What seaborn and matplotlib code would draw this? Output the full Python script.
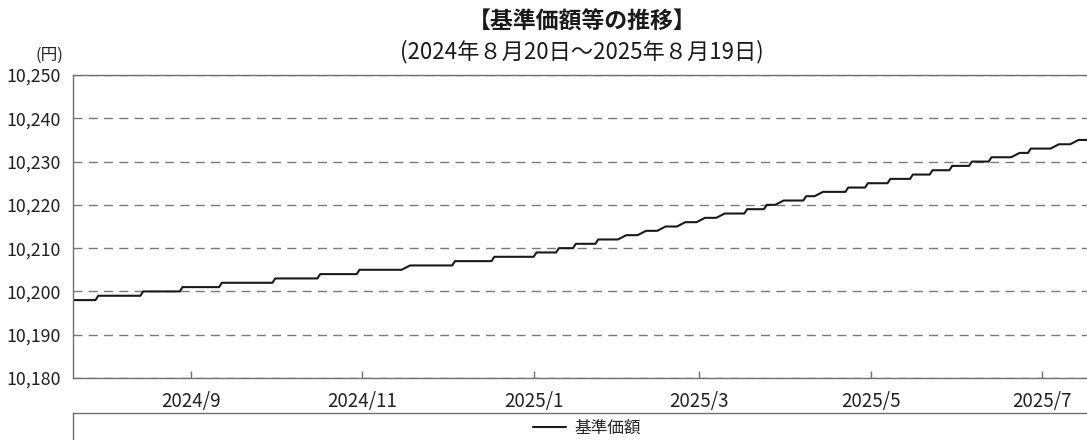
import pandas as pd
import matplotlib
matplotlib.use("Agg")
import matplotlib.pyplot as plt
from matplotlib.lines import Line2D
import seaborn as sns

# -------------------
# Data
# -------------------
# dates on which the NAV steps up by 1 yen, and the level from that date
step_dates = [
    "2024-07-21", "2024-07-30", "2024-08-15", "2024-08-29", "2024-09-12",
    "2024-10-01", "2024-10-17", "2024-10-31", "2024-11-18", "2024-12-04",
    "2024-12-18", "2025-01-02", "2025-01-10", "2025-01-16", "2025-01-24",
    "2025-02-01", "2025-02-09", "2025-02-16", "2025-02-23", "2025-03-02",
    "2025-03-09", "2025-03-18", "2025-03-25", "2025-03-30", "2025-04-08",
    "2025-04-14", "2025-04-23", "2025-04-30", "2025-05-08", "2025-05-16",
    "2025-05-23", "2025-05-30", "2025-06-06", "2025-06-13", "2025-06-21",
    "2025-06-27", "2025-07-05", "2025-07-12",
]
step_values = [
    10198, 10199, 10200, 10201, 10202,
    10203, 10204, 10205, 10206, 10207,
    10208, 10209, 10210, 10211, 10212,
    10213, 10214, 10215, 10216, 10217,
    10218, 10219, 10220, 10221, 10222,
    10223, 10224, 10225, 10226, 10227,
    10228, 10229, 10230, 10231, 10232,
    10233, 10234, 10235,
]
start_date = "2024-07-21"
end_date = "2025-07-17"

tick_dates = ["2024-09-01", "2024-11-01", "2025-01-01", "2025-03-01", "2025-05-01", "2025-07-01"]
tick_labels = ["2024/9", "2024/11", "2025/1", "2025/3", "2025/5", "2025/7"]
y_ticks = [10180, 10190, 10200, 10210, 10220, 10230, 10240, 10250]

title = "【基準価額等の推移】"
subtitle = "(2024年８月20日～2025年８月19日)"
series_name = "基準価額"

# daily forward fill, then keep business days only (gives the sloped steps)
steps = pd.Series(step_values, index=pd.to_datetime(step_dates))
days = pd.date_range(start_date, end_date, freq="D")
daily = steps.reindex(days).ffill()
bdays = daily[(daily.index.dayofweek < 5) | (daily.index == days[0]) | (daily.index == days[-1])]
df = pd.DataFrame({"date": bdays.index, "price": bdays.values})

# -------------------
# Plot
# -------------------
sns.set_theme(style="white")
plt.rcParams["font.family"] = ["Noto Sans CJK JP", "DejaVu Sans"]

W, H = 1087, 440
fig = plt.figure(figsize=(W / 100, H / 100), dpi=100)
ax = fig.add_axes([73 / W, 1 - 378 / H, (W - 73) / W, (378 - 75) / H])

sns.lineplot(data=df, x="date", y="price", ax=ax, color="#1a1a1a", linewidth=1.5)

ax.set_xlim(pd.Timestamp(start_date), pd.Timestamp(end_date))
ax.set_ylim(y_ticks[0], y_ticks[-1])
ax.set_yticks(y_ticks)
ax.set_yticklabels([f"{v:,}" for v in y_ticks])
ax.set_xticks(pd.to_datetime(tick_dates))
ax.set_xticklabels(tick_labels)
ax.set_xlabel("")
ax.set_ylabel("")

spine_col = "#707070"
for side in ["left", "top", "bottom"]:
    ax.spines[side].set_color(spine_col)
    ax.spines[side].set_linewidth(1.0)
ax.spines["right"].set_visible(False)

ax.tick_params(axis="y", length=0, pad=9, labelsize=12.8, colors="#222222")
ax.tick_params(axis="x", direction="in", length=5, width=1.0, color=spine_col,
               pad=9, labelsize=13.5, labelcolor="#222222", bottom=True)

ax.grid(axis="y", color="#7a7a7a", linewidth=1.0, linestyle=(0, (6.5, 4.5)))
ax.grid(axis="x", visible=False)

# titles and unit
fig.text(582 / W, 1 - 22 / H, title, ha="center", va="center",
         fontsize=16.5, fontweight="bold", color="#1a1a1a")
fig.text(582 / W, 1 - 52 / H, subtitle, ha="center", va="center",
         fontsize=16, color="#1a1a1a")
fig.text(63 / W, 1 - 55 / H, "(円)", ha="right", va="center",
         fontsize=12, color="#222222")

# legend box under the chart (runs past the bottom edge)
leg_bottom = -0.1
leg_height = (H - 413) / H - leg_bottom
leg_ax = fig.add_axes([73 / W, leg_bottom, 1.0, leg_height])
leg_ax.set_xticks([])
leg_ax.set_yticks([])
for side in ["left", "top"]:
    leg_ax.spines[side].set_color(spine_col)
    leg_ax.spines[side].set_linewidth(1.0)
for side in ["right", "bottom"]:
    leg_ax.spines[side].set_visible(False)
leg_ax.set_facecolor("none")

handle = Line2D([], [], color="#1a1a1a", linewidth=1.5)
leg_ax.legend([handle], [series_name], loc="center",
              bbox_to_anchor=((587 - 73) / W, 1 - 15 / (leg_height * H)),
              frameon=False, fontsize=12, handlelength=2.0, handletextpad=0.5)

fig.savefig("out.png", dpi=100)
